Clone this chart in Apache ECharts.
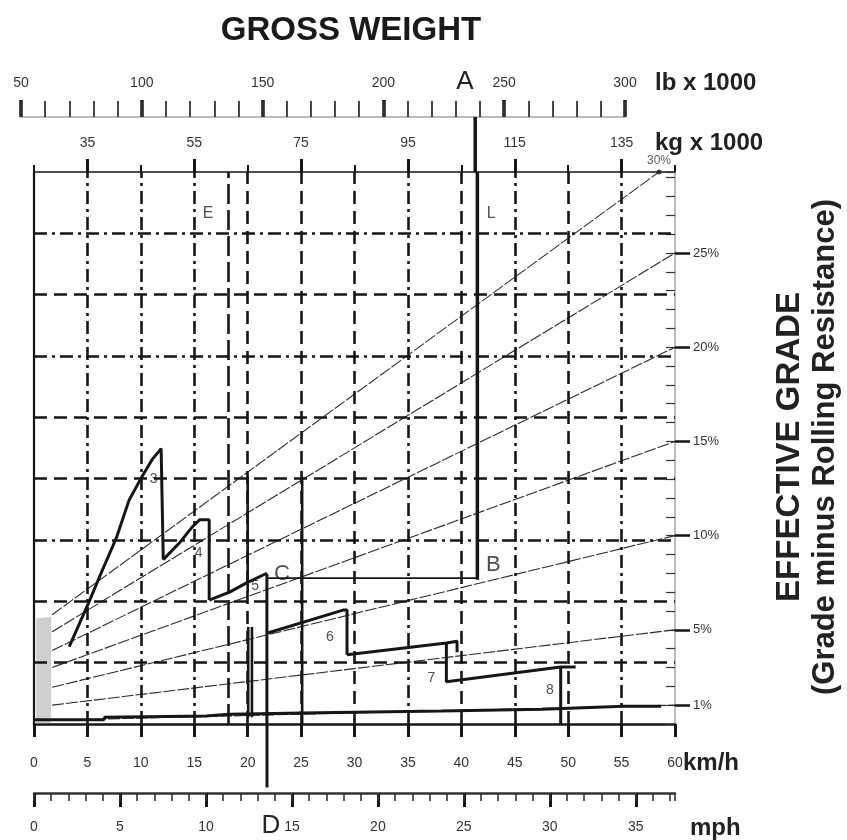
<!DOCTYPE html>
<html>
<head>
<meta charset="utf-8">
<script src="https://cdn.jsdelivr.net/npm/echarts@6/dist/echarts.min.js"></script>
<style>
  html, body { margin: 0; background: #fff; }
  #chart { width: 847px; height: 840px; }
</style>
</head>
<body>
<div id="chart"></div>
<script>
// scales
const kmhMax = 60
const mphMax = 37.28          // 60 km/h
const kgRange = [25, 145]
const lbRange = [50, 300]
const rimpullMax = 9          // unlabelled rimpull grid units
const gradeMax = 29.3         // grade read at the right edge, top of plot

const kgLabels = [35, 55, 75, 95, 115, 135]
const kgMinorStep = 20        // short ticks at 45, 65 ... 125
const kgMinorShift = 5        // so the short ticks land on multiples of the step
const lbLabels = [50, 100, 150, 200, 250, 300]
const mphLabels = [0, 5, 10, 15, 20, 25, 30, 35]
const gradeLabels = [1, 5, 10, 15, 20, 25]

// grid lines
const rimpullLines = [1, 2, 3, 4, 5, 6, 7, 8]
const kgLines = [35, 45, 55, 65, 75, 85, 95, 105, 115, 125, 135]
const emptyKg = 61.3
const loadedKg = 108
const loadedLb = 238

// grade lines (values on the grade axis)
const grades = [30, 25, 20, 15, 10, 5, 1]
const gradeStartKg = 28.4
const gradeStart = [5.8, 4.9, 3.9, 3.0, 1.95, 1.0, 0.2]
const gradeEndKg = [142, 145, 145, 145, 145, 145, 145]
const gradeEnd = [29.3, 25, 20, 15, 10, 5, 1]

// retarder curves [km/h, rimpull units]
const gear3 = [[3.3, 1.26], [5.15, 1.99], [6.4, 2.51], [7.7, 3.03], [8.9, 3.65], [10.1, 4.03], [11.05, 4.31], [11.9, 4.49], [12.1, 2.68]]
const gear4 = [[12.1, 2.68], [13.6, 2.95], [14.8, 3.21], [15.5, 3.33], [16.4, 3.33], [16.4, 2.02]]
const gear5 = [[16.4, 2.02], [18.3, 2.15], [19.9, 2.30], [21.7, 2.45], [21.8, 2.45]]
const gear6 = [[21.8, 1.48], [29.0, 1.86], [29.3, 1.86], [29.3, 1.13]]
const gear7 = [[29.3, 1.13], [38.6, 1.32], [39.6, 1.35], [39.6, 1.17]]
const gear8 = [[38.6, 1.32], [38.6, 0.69], [49.3, 0.93], [50.7, 0.93]]
const gear8Drop = [[49.3, 0.93], [49.3, 0]]
const limit20a = [[20, 4.03], [20, 2.14]]
const limit20b = [[20.05, 1.58], [20.05, 0.11]]
const limit20c = [[20.4, 1.58], [20.4, 0.11]]
const limit25 = [[25.1, 4.03], [25.1, 0]]
const bottomCurve = [[0, 0.07], [6.55, 0.07], [6.6, 0.11], [16.1, 0.13], [18.3, 0.16], [25.1, 0.18], [38.1, 0.21], [47.6, 0.24], [55.2, 0.29], [58.7, 0.29]]
const hatch = [[0.2, 1.72], [1.6, 1.75]]

// example reading A-B-C-D
const lineBC = [[21.8, 2.38], [41.4, 2.38]]
const lineCD = [[21.8, 2.45], [21.8, 0]]
const speedD = 13.55          // mph

// in-plot letters [km/h, rimpull]
const marks = [
  { name: '3', value: [11.2, 4.0], size: 14 },
  { name: '4', value: [15.4, 2.79], size: 14 },
  { name: '5', value: [20.7, 2.25], size: 14 },
  { name: '6', value: [27.7, 1.42], size: 14 },
  { name: '7', value: [37.2, 0.75], size: 14 },
  { name: '8', value: [48.3, 0.55], size: 14 },
  { name: 'C', value: [23.2, 2.45], size: 22 },
  { name: 'B', value: [43.0, 2.59], size: 22 },
  { name: 'E', value: [16.3, 8.32], size: 16 },
  { name: 'L', value: [42.8, 8.32], size: 16 }
]

const FONT = '"Liberation Sans", Arial, sans-serif'
const INK = '#161616'
const DASH = [13, 7]
const DASHDOT = [13, 5, 3, 5]
const LONGDASH = [20, 6]
const hLineDash = [DASH, DASH, DASHDOT, DASH, DASH, DASHDOT, DASH, DASHDOT]
const vLineDash = [DASHDOT, DASHDOT, DASHDOT, DASH, DASH, DASH, DASHDOT, DASH, DASHDOT, DASH, DASHDOT]

const chart = echarts.init(document.getElementById('chart'))

const main = { left: 34, right: 172, top: 172, bottom: 116 }
const lbGrid = { left: 21, width: 604, top: 117, height: 55 }
const mphGrid = { left: 34, right: 172, top: 724, height: 69 }

const hidden = { show: false }
const hiddenLine = { show: false, onZero: false }
const noAxis = { axisLine: hiddenLine, axisTick: hidden, axisLabel: hidden, splitLine: hidden }

function seg(data, xi, yi, width, extra) {
  return Object.assign({
    type: 'line', xAxisIndex: xi, yAxisIndex: yi, data: data,
    symbol: 'none', silent: true, animation: false,
    lineStyle: { color: INK, width: width }
  }, extra || {})
}

const series = []

// hatched start area
series.push(seg(hatch, 0, 0, 0, { areaStyle: { color: 'rgba(120,120,120,0.5)' } }))

// horizontal grid
series.push({
  type: 'line', xAxisIndex: 0, yAxisIndex: 0, data: [], silent: true, animation: false,
  markLine: {
    symbol: ['none', 'none'], label: hidden, silent: true, animation: false,
    data: rimpullLines.map((v, i) => ({ yAxis: v, lineStyle: { color: INK, width: 2.6, type: hLineDash[i] } }))
  }
})
// vertical weight grid + empty weight line
series.push({
  type: 'line', xAxisIndex: 1, yAxisIndex: 0, data: [], silent: true, animation: false,
  markLine: {
    symbol: ['none', 'none'], label: hidden, silent: true, animation: false,
    data: kgLines.map((v, i) => ({ xAxis: v, lineStyle: { color: INK, width: 2.6, type: vLineDash[i] } }))
      .concat([{ xAxis: emptyKg, lineStyle: { color: INK, width: 2.6, type: LONGDASH } }])
  }
})

// grade lines
grades.forEach((g, i) => {
  series.push(seg([[gradeStartKg, gradeStart[i]], [gradeEndKg[i], gradeEnd[i]]], 1, 1, 1.1,
    { lineStyle: { color: '#2a2a2a', width: 1.1, type: [12, 2] } }))
})
series.push({
  type: 'scatter', xAxisIndex: 1, yAxisIndex: 1, silent: true, animation: false,
  data: [[gradeEndKg[0], gradeEnd[0]]], symbolSize: 5, itemStyle: { color: INK },
  label: { show: true, formatter: grades[0] + '%', position: 'top', distance: 3, fontSize: 12, fontFamily: FONT, color: '#333' }
})

// curves
;[gear3, gear4, gear5, gear6, gear7, gear8, gear8Drop].forEach(d => series.push(seg(d, 0, 0, 3)))
;[limit20a, limit20b, limit20c, limit25].forEach(d => series.push(seg(d, 0, 0, 2.6)))
series.push(seg(bottomCurve, 0, 0, 3))

// A-B-C-D construction
series.push(seg([[loadedKg, rimpullMax], [loadedKg, 2.35]], 1, 0, 3.5))
series.push(seg([[loadedLb, 0], [loadedLb, 1]], 2, 2, 3.5))
series.push(seg(lineBC, 0, 0, 1.8))
series.push(seg(lineCD, 0, 0, 3))
series.push(seg([[speedD, 0.08], [speedD, 1]], 4, 4, 3))

// letters
series.push({
  type: 'scatter', xAxisIndex: 0, yAxisIndex: 0, silent: true, animation: false, symbolSize: 0,
  data: marks.map(m => ({
    name: m.name, value: m.value,
    label: { show: true, formatter: m.name, position: 'inside', fontSize: m.size, fontFamily: FONT, color: '#222' }
  }))
})

const option = {
  animation: false,
  backgroundColor: '#fff',
  grid: [
    Object.assign({}, main),          // 0 main
    Object.assign({}, main),          // 1 main overlay for minor ticks
    Object.assign({}, lbGrid),        // 2 lb
    Object.assign({}, lbGrid),        // 3 lb minor
    Object.assign({}, mphGrid),       // 4 mph
    Object.assign({}, mphGrid)        // 5 mph minor
  ],
  xAxis: [
    { // 0 km/h
      gridIndex: 0, type: 'value', position: 'bottom', min: 0, max: kmhMax, interval: 5,
      axisLine: { show: true, onZero: false, lineStyle: { color: INK, width: 2.5 } },
      axisTick: { show: true, length: 13, lineStyle: { color: INK, width: 3 } },
      axisLabel: { margin: 32, fontSize: 14, fontFamily: FONT, color: '#333' },
      splitLine: hidden
    },
    { // 1 kg major
      gridIndex: 0, type: 'value', position: 'top', min: kgRange[0], max: kgRange[1],
      axisLine: { show: true, onZero: false, lineStyle: { color: INK, width: 1.5 } },
      axisTick: { show: true, customValues: kgLabels, length: 13, lineStyle: { color: INK, width: 3 } },
      axisLabel: { customValues: kgLabels, margin: 22, fontSize: 14, fontFamily: FONT, color: '#333' },
      splitLine: hidden
    },
    { // 2 lb major
      gridIndex: 2, type: 'value', position: 'top', min: lbRange[0], max: lbRange[1],
      axisLine: { show: true, onZero: false, lineStyle: { color: '#bdbdbd', width: 2 } },
      axisTick: { show: true, customValues: lbLabels, length: 17, lineStyle: { color: INK, width: 3.5 } },
      axisLabel: { customValues: lbLabels, margin: 27, fontSize: 14, fontFamily: FONT, color: '#333' },
      splitLine: hidden
    },
    { // 3 lb minor
      gridIndex: 3, type: 'value', position: 'top', min: lbRange[0], max: lbRange[1], interval: 10,
      axisLine: hiddenLine, axisLabel: hidden, splitLine: hidden,
      axisTick: { show: true, length: 16, lineStyle: { color: '#333', width: 1.8 } }
    },
    { // 4 mph major
      gridIndex: 4, type: 'value', position: 'bottom', min: 0, max: mphMax,
      axisLine: { show: true, onZero: false, lineStyle: { color: '#333', width: 2.5 } },
      axisTick: { show: true, customValues: mphLabels, length: 14, lineStyle: { color: INK, width: 3 } },
      axisLabel: { customValues: mphLabels, margin: 27, fontSize: 14, fontFamily: FONT, color: '#333' },
      splitLine: hidden
    },
    { // 5 mph minor
      gridIndex: 5, type: 'value', position: 'bottom', min: 0, max: mphMax, interval: 1,
      axisLine: hiddenLine, axisLabel: hidden, splitLine: hidden,
      axisTick: { show: true, length: 8, lineStyle: { color: '#333', width: 1.6 } }
    },
    { // 6 kg minor ticks (axis values are kg minus the shift)
      gridIndex: 1, type: 'value', position: 'top',
      min: kgRange[0] - kgMinorShift, max: kgRange[1] - kgMinorShift, interval: kgMinorStep,
      axisLine: hiddenLine, axisLabel: hidden, splitLine: hidden,
      axisTick: { show: true, length: 7, lineStyle: { color: INK, width: 2 } }
    }
  ],
  yAxis: [
    { // 0 rimpull
      gridIndex: 0, type: 'value', position: 'left', min: 0, max: rimpullMax,
      axisLine: { show: true, onZero: false, lineStyle: { color: INK, width: 2.2 } },
      axisTick: hidden, axisLabel: hidden, splitLine: hidden
    },
    { // 1 grade major
      gridIndex: 0, type: 'value', position: 'right', min: 0, max: gradeMax,
      axisLine: { show: true, onZero: false, lineStyle: { color: '#bdbdbd', width: 2 } },
      axisTick: { show: true, customValues: gradeLabels, length: 15, lineStyle: { color: INK, width: 2.5 } },
      axisLabel: { customValues: gradeLabels, formatter: '{value}%', margin: 18, fontSize: 13, fontFamily: FONT, color: '#333' },
      splitLine: hidden
    },
    Object.assign({ gridIndex: 2, type: 'value', min: 0, max: 1 }, noAxis),
    Object.assign({ gridIndex: 3, type: 'value', min: 0, max: 1 }, noAxis),
    Object.assign({ gridIndex: 4, type: 'value', min: 0, max: 1 }, noAxis),
    Object.assign({ gridIndex: 5, type: 'value', min: 0, max: 1 }, noAxis),
    { // 6 grade minor
      gridIndex: 1, type: 'value', position: 'right', min: 0, max: gradeMax, interval: 1,
      axisLine: hiddenLine, axisLabel: hidden, splitLine: hidden,
      axisTick: { show: true, inside: true, length: 9, lineStyle: { color: '#333', width: 1.2 } }
    }
  ],
  graphic: [
    { type: 'text', x: 351, y: 31, style: { text: 'GROSS WEIGHT', font: 'bold 33px ' + FONT, fill: '#1a1a1a', align: 'center', verticalAlign: 'middle' } },
    { type: 'text', x: 655, y: 83, style: { text: 'lb x 1000', font: 'bold 24px ' + FONT, fill: '#222', verticalAlign: 'middle' } },
    { type: 'text', x: 655, y: 143, style: { text: 'kg x 1000', font: 'bold 24px ' + FONT, fill: '#222', verticalAlign: 'middle' } },
    { type: 'text', x: 683, y: 763, style: { text: 'km/h', font: 'bold 24px ' + FONT, fill: '#222', verticalAlign: 'middle' } },
    { type: 'text', x: 690, y: 828, style: { text: 'mph', font: 'bold 24px ' + FONT, fill: '#222', verticalAlign: 'middle' } },
    { type: 'text', x: 465, y: 82, style: { text: 'A', font: '26px ' + FONT, fill: '#222', align: 'center', verticalAlign: 'middle' } },
    { type: 'text', x: 271, y: 826, style: { text: 'D', font: '26px ' + FONT, fill: '#222', align: 'center', verticalAlign: 'middle' } },
    { type: 'text', x: 790, y: 447, rotation: Math.PI / 2, style: { text: 'EFFECTIVE GRADE', font: 'bold 33px ' + FONT, fill: '#222', align: 'center', verticalAlign: 'middle' } },
    { type: 'text', x: 825, y: 447, rotation: Math.PI / 2, style: { text: '(Grade minus Rolling Resistance)', font: 'bold 31px ' + FONT, fill: '#222', align: 'center', verticalAlign: 'middle' } }
  ],
  series: series
}

chart.setOption(option)
</script>
</body>
</html>
